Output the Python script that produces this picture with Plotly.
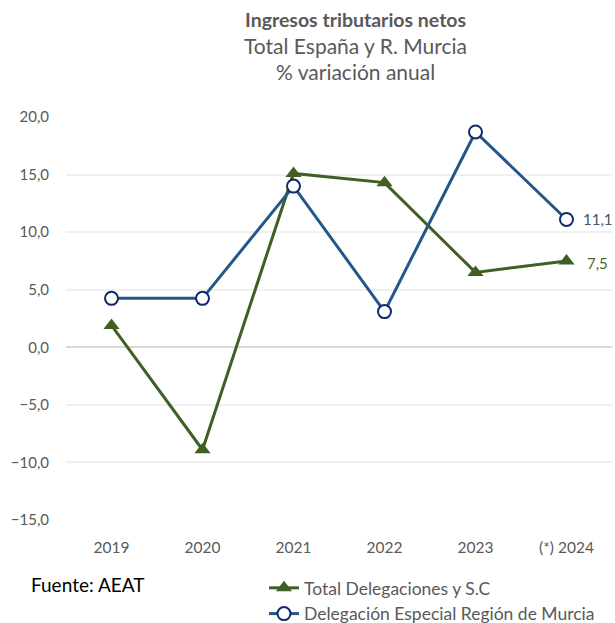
import plotly.graph_objects as go

years = ["2019", "2020", "2021", "2022", "2023", "(*) 2024"]
total_delegaciones = [1.9, -8.9, 15.1, 14.3, 6.5, 7.5]
region_murcia = [4.25, 4.25, 14.0, 3.1, 18.7, 11.1]
y_ticks = [-15, -10, -5, 0, 5, 10, 15, 20]

FONT = "Lato"
GREEN = "#3F5F24"
BLUE = "#23578A"
NAVY = "#0E2A6B"
GRAY = "#595959"


def fmt(v):
    return f"{v:.1f}".replace(".", ",")


fig = go.Figure()
fig.add_trace(go.Scatter(
    x=years, y=total_delegaciones, name="Total Delegaciones y S.C",
    mode="lines+markers",
    line=dict(color=GREEN, width=3),
    marker=dict(symbol="triangle-up", size=14, color=GREEN),
    cliponaxis=False,
))
fig.add_trace(go.Scatter(
    x=years, y=region_murcia, name="Delegación Especial Región de Murcia",
    mode="lines+markers",
    line=dict(color=BLUE, width=3),
    marker=dict(symbol="circle", size=13, color="white", line=dict(color=NAVY, width=2)),
    cliponaxis=False,
))

# data labels on the last point of each series
fig.add_annotation(x=years[-1], y=region_murcia[-1], text=fmt(region_murcia[-1]),
                   showarrow=False, xanchor="left", yanchor="middle", xshift=14,
                   font=dict(size=15, color="#44546A", family=FONT))
fig.add_annotation(x=years[-1], y=total_delegaciones[-1], text=fmt(total_delegaciones[-1]),
                   showarrow=False, xanchor="left", yanchor="middle", xshift=18, yshift=-2,
                   font=dict(size=15, color="#4F6228", family=FONT))

fig.update_layout(
    width=615, height=623,
    margin=dict(l=66, r=3, t=117, b=103, autoexpand=False),
    paper_bgcolor="white", plot_bgcolor="white",
    separators=",.",
    font=dict(family=FONT, size=15, color=GRAY),
    showlegend=True,
    legend=dict(
        orientation="v", x=0.3626, xanchor="left", y=-0.124, yanchor="top",
        font=dict(size=17.5, color=GRAY, family=FONT),
        bgcolor="rgba(0,0,0,0)", tracegroupgap=0,
    ),
    xaxis=dict(
        type="category", range=[-0.5, 5.5], autorange=False,
        showgrid=False, showline=False, zeroline=False,
        ticks="", ticklabelstandoff=16,
        tickfont=dict(size=15.5, color=GRAY, family=FONT),
    ),
    yaxis=dict(
        range=[-15, 20], autorange=False, tickvals=y_ticks, tickformat=".1f",
        showgrid=True, gridcolor="#F0F0F0", gridwidth=1.5,
        zeroline=True, zerolinecolor="#D9D9D9", zerolinewidth=2,
        showline=False, ticks="", ticklabelstandoff=16,
        tickfont=dict(size=15, color=GRAY, family=FONT),
    ),
)

TITLE_X = (355 - 66) / 546
fig.add_annotation(
    xref="paper", yref="paper", x=TITLE_X, y=1.0, yshift=98, xanchor="center", yanchor="middle",
    text="<b>Ingresos tributarios netos</b>", showarrow=False,
    font=dict(size=19.5, color=GRAY, family=FONT),
)
fig.add_annotation(
    xref="paper", yref="paper", x=TITLE_X, y=1.0, yshift=72, xanchor="center", yanchor="middle",
    text="Total España y R. Murcia", showarrow=False,
    font=dict(size=21, color=GRAY, family=FONT),
)
fig.add_annotation(
    xref="paper", yref="paper", x=TITLE_X, y=1.0, yshift=46, xanchor="center", yanchor="middle",
    text="% variación anual", showarrow=False,
    font=dict(size=21, color=GRAY, family=FONT),
)
fig.add_annotation(
    xref="paper", yref="paper", x=-0.068, y=0, yshift=-64, xanchor="left", yanchor="middle",
    text="Fuente: AEAT", showarrow=False,
    font=dict(size=19, color="black", family=FONT),
)

fig.write_html(
    "out.html",
    config={"displayModeBar": False},
    post_script="document.body.style.margin='0';document.body.style.overflow='hidden';",
)
